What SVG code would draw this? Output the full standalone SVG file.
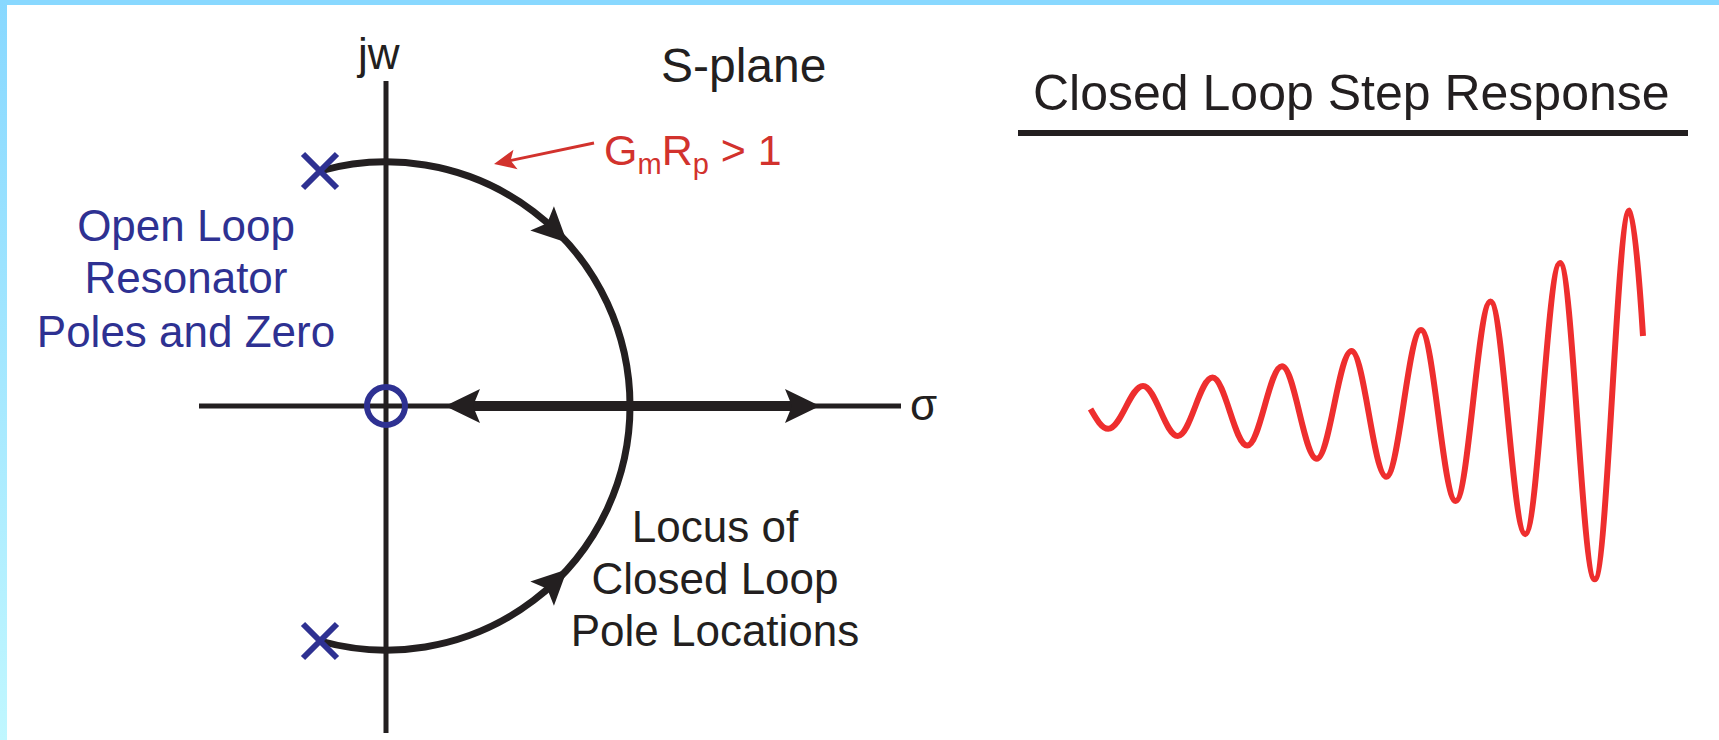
<svg xmlns="http://www.w3.org/2000/svg" width="1719" height="740" viewBox="0 0 1719 740">
  <defs>
    <linearGradient id="leftbar" x1="0" y1="0" x2="0" y2="1">
      <stop offset="0" stop-color="#88d8ff"/>
      <stop offset="1" stop-color="#c0f7ff"/>
    </linearGradient>
    <path id="ah" d="M0,0 L-35,-17 L-28,0 L-35,17 Z"/>
    <path id="ahs" d="M0,0 L-22,-10 L-17,0 L-22,10 Z"/>
    <style>
      .t { font-family: "Liberation Sans", Arial, Helvetica, sans-serif; }
      .blk { fill: #231f20; }
      .blue { fill: #2e3192; }
      .red { fill: #d2322d; }
      .axis { stroke: #231f20; stroke-width: 5; fill: none; }
      .locus { stroke: #231f20; stroke-width: 7; fill: none; }
      .pole { stroke: #2e3192; stroke-width: 6; fill: none; stroke-linecap: butt; }
    </style>
  </defs>

  <rect x="0" y="0" width="1719" height="740" fill="#ffffff"/>
  <rect x="0" y="0" width="1719" height="5" fill="#88d8ff"/>
  <rect x="0" y="0" width="7" height="740" fill="url(#leftbar)"/>

  <g id="axes">
    <line class="axis" x1="386" y1="81" x2="386" y2="733"/>
    <line class="axis" x1="199" y1="406" x2="901" y2="406"/>
    <text class="t blk" x="358" y="69" font-size="44">jw</text>
    <text class="t blk" x="910" y="420" font-size="44">σ</text>
    <text class="t blk" x="661" y="82" font-size="48">S-plane</text>
  </g>

  <g id="connectors">
    <path class="locus" d="M320,171 A244,244 0 0 1 630,406"/>
    <path class="locus" d="M320,641 A244,244 0 0 0 630,406"/>
    <use href="#ah" fill="#231f20" transform="translate(567.3,242.7) rotate(44)"/>
    <use href="#ah" fill="#231f20" transform="translate(567.3,569.3) rotate(-44)"/>
    <line x1="456" y1="406" x2="809" y2="406" stroke="#231f20" stroke-width="10"/>
    <use href="#ah" fill="#231f20" transform="translate(445,406) rotate(180)"/>
    <use href="#ah" fill="#231f20" transform="translate(820,406)"/>
    <line x1="594" y1="143" x2="510" y2="160.6" stroke="#d2322d" stroke-width="3"/>
    <use href="#ahs" fill="#d2322d" transform="translate(494,164) rotate(168.1)"/>
  </g>

  <g id="zero">
    <circle cx="386" cy="406" r="19" fill="none" stroke="#2e3192" stroke-width="6"/>
  </g>
  <g id="pole-top">
    <path class="pole" d="M303,154 L337,188 M337,154 L303,188"/>
  </g>
  <g id="pole-bottom">
    <path class="pole" d="M303,624 L337,658 M337,624 L303,658"/>
  </g>

  <g id="label-open-loop">
    <text class="t blue" x="186" y="241" font-size="44" text-anchor="middle">Open Loop</text>
    <text class="t blue" x="186" y="293" font-size="44" text-anchor="middle">Resonator</text>
    <text class="t blue" x="186" y="347" font-size="44" text-anchor="middle">Poles and Zero</text>
  </g>

  <g id="label-gain">
    <text class="t red" x="604" y="165" font-size="43">G<tspan font-size="29" dy="9">m</tspan><tspan dy="-9">R</tspan><tspan font-size="29" dy="9">p</tspan><tspan dy="-9"> &gt; 1</tspan></text>
  </g>

  <g id="label-locus">
    <text class="t blk" x="715" y="542" font-size="44" text-anchor="middle">Locus of</text>
    <text class="t blk" x="715" y="594" font-size="44" text-anchor="middle">Closed Loop</text>
    <text class="t blk" x="715" y="646" font-size="44" text-anchor="middle">Pole Locations</text>
  </g>

  <g id="step-response">
    <text class="t blk" x="1033" y="110" font-size="50">Closed Loop Step Response</text>
    <line x1="1018" y1="133" x2="1688" y2="133" stroke="#231f20" stroke-width="6"/>
    <path fill="none" stroke="#ee2e2e" stroke-width="6" stroke-linejoin="round" d="M1090.5,409 C1096.3,419.1 1101.8,428.8 1108.25,428.8 C1120.9,428.8 1130.4,385.9 1143,385.9 C1155.6,385.9 1165.1,435.9 1177.75,435.9 C1190.4,435.9 1199.9,377.6 1212.5,377.6 C1225.1,377.6 1234.6,445.6 1247.25,445.6 C1259.9,445.6 1269.4,366.3 1282,366.3 C1294.6,366.3 1304.1,458.8 1316.75,458.8 C1329.4,458.8 1338.9,351 1351.5,351 C1364.1,351 1373.6,476.7 1386.25,476.7 C1398.9,476.7 1408.4,330.1 1421,330.1 C1433.6,330.1 1443.1,501.1 1455.75,501.1 C1468.4,501.1 1477.9,301.6 1490.5,301.6 C1503.1,301.6 1512.6,534.2 1525.25,534.2 C1537.9,534.2 1547.4,263 1560,263 C1572.6,263 1582.1,579.3 1594.75,579.3 C1607.4,579.3 1616.9,210.4 1629.5,210.4 C1634,210.4 1640,288 1643,336"/>
  </g>
</svg>
